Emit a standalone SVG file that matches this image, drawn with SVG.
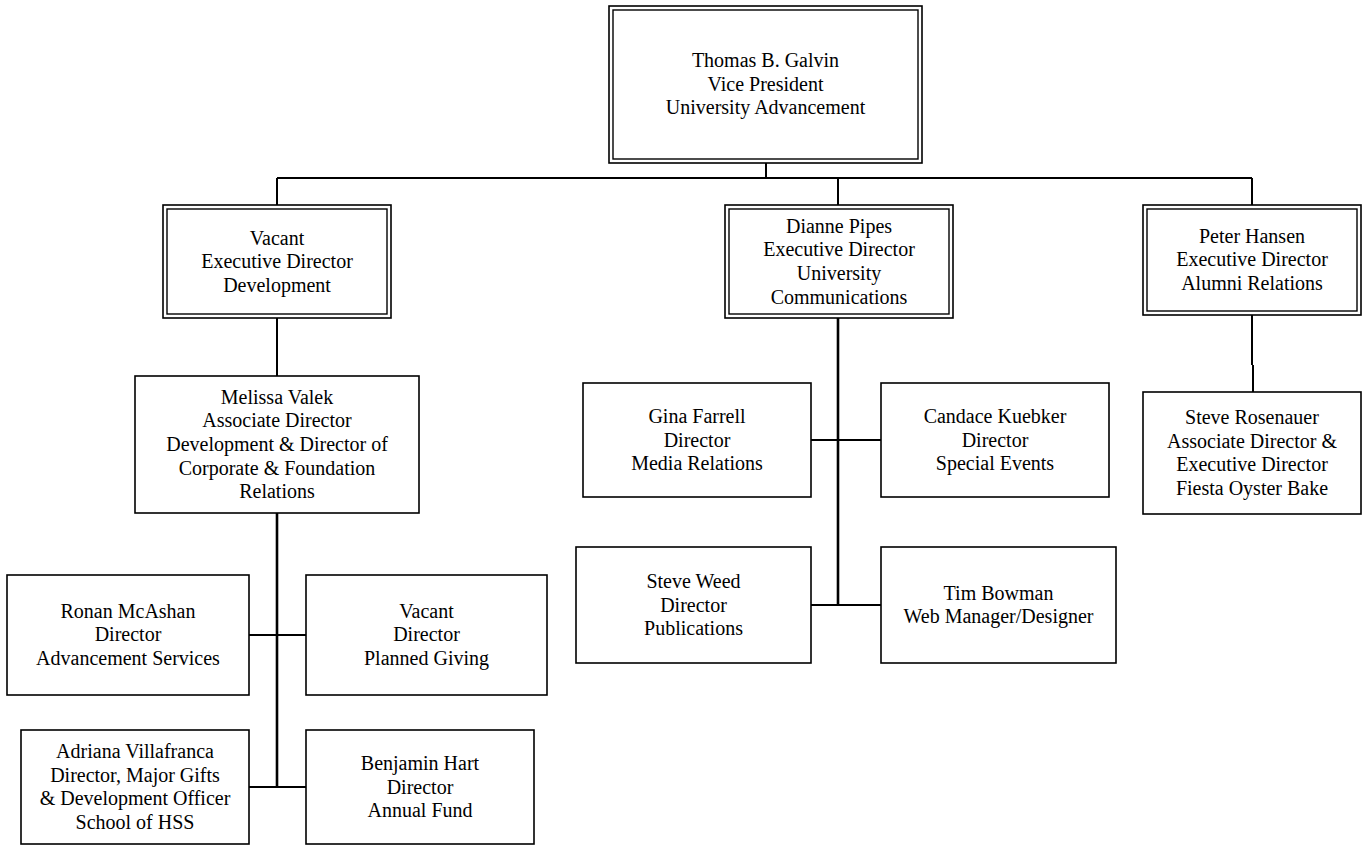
<svg xmlns="http://www.w3.org/2000/svg" width="1362" height="846" viewBox="0 0 1362 846">
<style>
.bx{fill:#fff;stroke:#000;stroke-width:1.6}
.in{fill:none;stroke:#000;stroke-width:1.4}
.ln{fill:none;stroke:#000;stroke-width:2}
.lt{fill:none;stroke:#000;stroke-width:2.6}
.t{font-family:"Liberation Serif","Times New Roman",serif;font-size:20px;text-anchor:middle;fill:#000}
</style>
<rect width="1362" height="846" fill="#fff"/>
<g id="connectors">
<path class="ln" d="M766,163V178M277,178H1252M277,178V205M838,178V205M1252,178V205"/>
<path class="ln" d="M277,318V376M249,635H306M249,787H306"/>
<path class="lt" d="M277,513V787"/>
<path class="lt" d="M838,318V605"/>
<path class="ln" d="M811,440H881M811,605H881"/>
<path class="ln" d="M1252,314V365M1253,365V392"/>
</g>
<g id="galvin">
<rect class="bx" x="609" y="6" width="313" height="157"/>
<rect class="in" x="613" y="10" width="305" height="149"/>
<text class="t" x="765.5" y="67">Thomas B. Galvin</text>
<text class="t" x="765.5" y="90.7">Vice President</text>
<text class="t" x="765.5" y="114.4">University Advancement</text>
</g>
<g id="vacant-development">
<rect class="bx" x="163" y="205" width="228" height="113"/>
<rect class="in" x="167" y="209" width="220" height="105"/>
<text class="t" x="277" y="244.5">Vacant</text>
<text class="t" x="277" y="268.2">Executive Director</text>
<text class="t" x="277" y="291.9">Development</text>
</g>
<g id="pipes">
<rect class="bx" x="725" y="205" width="228" height="113"/>
<rect class="in" x="729" y="209" width="220" height="105"/>
<text class="t" x="839" y="232.5">Dianne Pipes</text>
<text class="t" x="839" y="256.2">Executive Director</text>
<text class="t" x="839" y="279.9">University</text>
<text class="t" x="839" y="303.6">Communications</text>
</g>
<g id="hansen">
<rect class="bx" x="1143" y="205" width="218" height="110"/>
<rect class="in" x="1147" y="209" width="210" height="102"/>
<text class="t" x="1252" y="242.5">Peter Hansen</text>
<text class="t" x="1252" y="266.2">Executive Director</text>
<text class="t" x="1252" y="289.9">Alumni Relations</text>
</g>
<g id="valek">
<rect class="bx" x="135" y="376" width="284" height="137"/>
<text class="t" x="277" y="403.5">Melissa Valek</text>
<text class="t" x="277" y="427.2">Associate Director</text>
<text class="t" x="277" y="450.9">Development &amp; Director of</text>
<text class="t" x="277" y="474.6">Corporate &amp; Foundation</text>
<text class="t" x="277" y="498.3">Relations</text>
</g>
<g id="mcashan">
<rect class="bx" x="7" y="575" width="242" height="120"/>
<text class="t" x="128" y="617.5">Ronan McAshan</text>
<text class="t" x="128" y="641.2">Director</text>
<text class="t" x="128" y="664.9">Advancement Services</text>
</g>
<g id="vacant-planned">
<rect class="bx" x="306" y="575" width="241" height="120"/>
<text class="t" x="426.5" y="617.5">Vacant</text>
<text class="t" x="426.5" y="641.2">Director</text>
<text class="t" x="426.5" y="664.9">Planned Giving</text>
</g>
<g id="villafranca">
<rect class="bx" x="21" y="730" width="228" height="114"/>
<text class="t" x="135" y="758">Adriana Villafranca</text>
<text class="t" x="135" y="781.7">Director, Major Gifts</text>
<text class="t" x="135" y="805.4">&amp; Development Officer</text>
<text class="t" x="135" y="829.1">School of HSS</text>
</g>
<g id="hart">
<rect class="bx" x="306" y="730" width="228" height="114"/>
<text class="t" x="420" y="769.8">Benjamin Hart</text>
<text class="t" x="420" y="793.5">Director</text>
<text class="t" x="420" y="817.2">Annual Fund</text>
</g>
<g id="farrell">
<rect class="bx" x="583" y="383" width="228" height="114"/>
<text class="t" x="697" y="422.8">Gina Farrell</text>
<text class="t" x="697" y="446.5">Director</text>
<text class="t" x="697" y="470.2">Media Relations</text>
</g>
<g id="kuebker">
<rect class="bx" x="881" y="383" width="228" height="114"/>
<text class="t" x="995" y="422.8">Candace Kuebker</text>
<text class="t" x="995" y="446.5">Director</text>
<text class="t" x="995" y="470.2">Special Events</text>
</g>
<g id="weed">
<rect class="bx" x="576" y="547" width="235" height="116"/>
<text class="t" x="693.5" y="587.8">Steve Weed</text>
<text class="t" x="693.5" y="611.5">Director</text>
<text class="t" x="693.5" y="635.2">Publications</text>
</g>
<g id="bowman">
<rect class="bx" x="881" y="547" width="235" height="116"/>
<text class="t" x="998.5" y="599.7">Tim Bowman</text>
<text class="t" x="998.5" y="623.4">Web Manager/Designer</text>
</g>
<g id="rosenauer">
<rect class="bx" x="1143" y="392" width="218" height="122"/>
<text class="t" x="1252" y="424">Steve Rosenauer</text>
<text class="t" x="1252" y="447.7">Associate Director &amp;</text>
<text class="t" x="1252" y="471.4">Executive Director</text>
<text class="t" x="1252" y="495.1">Fiesta Oyster Bake</text>
</g>
</svg>
